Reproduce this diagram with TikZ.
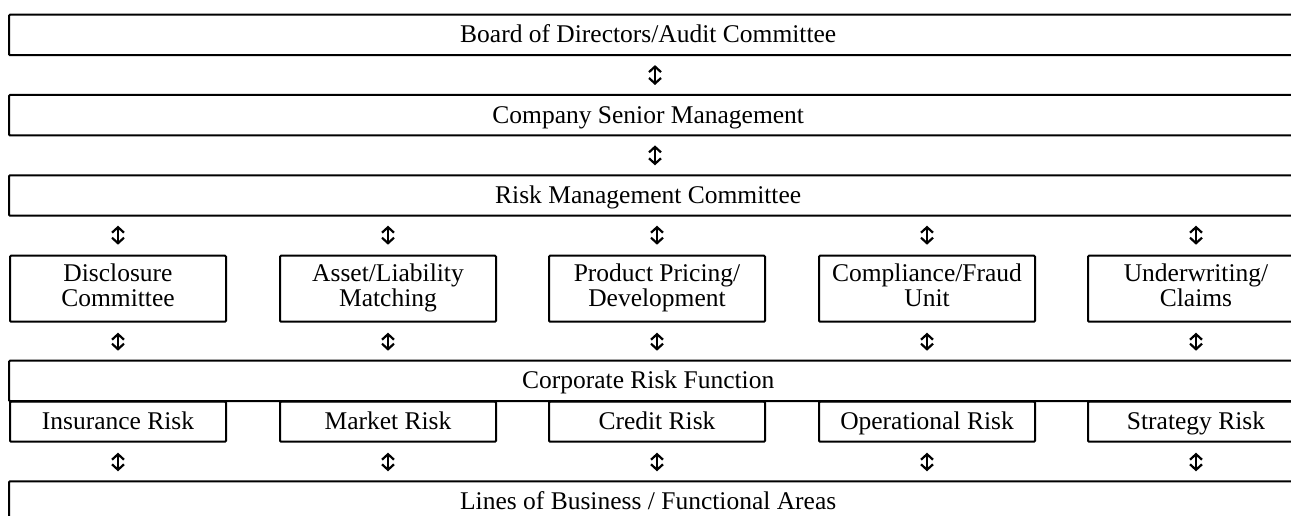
\documentclass[tikz,border=0pt]{standalone}
\usepackage{fontspec}
\setmainfont{Liberation Serif}
\usetikzlibrary{arrows.meta}
\newcommand{\mystrut}{\rule[-7pt]{0pt}{30pt}}
\begin{document}
\begin{tikzpicture}[x=1pt,y=-1pt,
  lbl/.style={font=\fontsize{25.5}{25}\selectfont, inner sep=0pt, align=center,
    execute at begin node=\mystrut, execute at end node=\mystrut},
  wide/.style={lbl, minimum width=1278pt, minimum height=40pt, anchor=north west},
  sbox/.style={lbl, draw, line width=2pt, rounded corners=1pt, minimum width=216pt, minimum height=66pt, anchor=north west},
  rbox/.style={lbl, draw, line width=2pt, rounded corners=1pt, minimum width=216pt, minimum height=40pt, anchor=north west},
  openbox/.style={line width=2pt, rounded corners=1pt},
  dbl/.style={line width=1.5pt, {Straight Barb[length=5.5pt,width=12pt,line width=2.2pt]}-{Straight Barb[length=5.5pt,width=12pt,line width=2.2pt]}, shorten >=10pt, shorten <=10pt}
]
\useasboundingbox (0,0) rectangle (1291,516);
\clip (0,0) rectangle (1291,516);

\node[wide] (bod) at (9,14.7) {Board of Directors/Audit Committee};
\node[wide] (csm) at (9,95) {Company Senior Management};
\node[wide] (rmc) at (9,175.3) {Risk Management Committee};

\node[sbox] (s1) at (9,254.7) {Disclosure\\Committee};
\node[sbox] (s2) at (279,254.7) {Asset/Liability\\Matching};
\node[sbox] (s3) at (548,254.7) {Product Pricing/\\Development};
\node[sbox] (s4) at (818,254.7) {Compliance/Fraud\\Unit};
\node[sbox] (s5) at (1087,254.7) {Underwriting/\\Claims};

\node[wide] (crf) at (9,360.7) {Corporate Risk Function};

\node[rbox] (r1) at (9,400.7) {Insurance Risk};
\node[rbox] (r2) at (279,400.7) {Market Risk};
\node[rbox] (r3) at (548,400.7) {Credit Risk};
\node[rbox] (r4) at (818,400.7) {Operational Risk};
\node[rbox] (r5) at (1087,400.7) {Strategy Risk};

\node[wide] (lob) at (9,481.3) {Lines of Business / Functional Areas};

\foreach \n in {bod,csm,rmc,crf,lob}
  \draw[openbox] ([xshift=40pt]\n.north east) -- (\n.north west) -- (\n.south west) -- ([xshift=40pt]\n.south east);

\coordinate (ax) at (655,0);
\draw[dbl] (bod.south -| ax) -- (csm.north -| ax);
\draw[dbl] (csm.south -| ax) -- (rmc.north -| ax);

\foreach \i in {1,...,5} {
  \draw[dbl] (rmc.south -| s\i) -- (s\i.north);
  \draw[dbl] (s\i.south) -- (crf.north -| s\i);
  \draw[dbl] (r\i.south) -- (lob.north -| r\i);
}
\end{tikzpicture}
\end{document}
